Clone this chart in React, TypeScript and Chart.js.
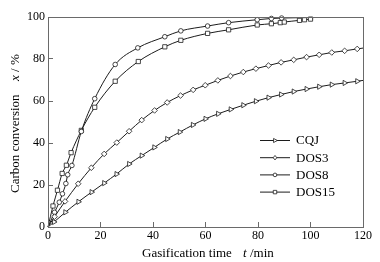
import React, { useEffect, useRef } from "react";
import { Chart, registerables } from "chart.js";

Chart.register(...registerables);

// ---- data ----
const seriesNames = ["CQJ", "DOS3", "DOS8", "DOS15"];

// first and (for CQJ / DOS3 / DOS8 / DOS15) end points are curve-only (no marker)
const cqjTime = [0, 2.3, 6.6, 11.6, 16.6, 21.4, 26.1, 30.9, 35.7, 40.5, 45.4, 50.2, 55.2, 60, 64.8, 69.6, 74.4, 79.2, 84, 88.8, 93.6, 98.5, 103.3, 108.1, 113, 117.8, 120];
const cqjConv = [0, 2.4, 7, 12, 16.6, 20.9, 25.2, 30, 34, 37.9, 41.9, 45.2, 48.6, 51.5, 53.9, 56, 58, 59.9, 61.6, 63.1, 64.5, 65.7, 66.8, 67.8, 68.6, 69.4, 69.8];

const dos3Time = [0, 2.5, 6.5, 11.5, 16.5, 21.4, 26.2, 30.9, 35.7, 40.6, 45.4, 50.5, 55.3, 59.9, 64.7, 69.5, 74.4, 79.2, 84, 88.8, 93.6, 98.5, 103.3, 108.1, 113, 117.8, 120];
const dos3Conv = [0, 4.9, 12.2, 20.6, 28.2, 34.8, 40.2, 45.6, 50.9, 55.5, 59.3, 62.6, 65.3, 67.5, 69.8, 71.9, 73.8, 75.4, 76.9, 78.4, 79.6, 80.9, 82, 83.1, 83.9, 84.8, 85.2];

const dos8Time = [0, 2.5, 4.3, 5.5, 6.8, 7.5, 9.1, 12.7, 17.8, 25.6, 34.2, 44.5, 50.6, 60.8, 68.8, 79.7, 85.1, 89, 101];
const dos8Conv = [0, 7, 11.8, 15.8, 20.7, 24.9, 29.3, 45.5, 61.1, 77.4, 85.3, 90.6, 93.4, 95.7, 97.3, 98.7, 99.3, 99.5, 99.8];

const dos15Time = [0, 1.9, 3.6, 5.4, 7, 8.8, 12.7, 17.8, 25.6, 34.4, 44.5, 50.6, 60.8, 68.8, 79.7, 85.1, 88.5, 90, 95.8, 97.7, 100, 101];
const dos15Conv = [0, 10, 17.5, 25.5, 29.4, 35.4, 46, 57, 69.4, 78.8, 85.8, 88.9, 92.2, 93.9, 96.2, 96.8, 97.3, 97.6, 98.4, 98.7, 99, 99.1];

const xTickValues = [0, 20, 40, 60, 80, 100, 120];
const yTickValues = [0, 20, 40, 60, 80, 100];

const xTitleMain = "Gasification time";
const xTitleVar = "t";
const xTitleUnit = "/min";
const yTitleMain = "Carbon conversion";
const yTitleVar = "x";
const yTitleUnit = " / %";

// ---- styling ----
const FONT = "'Liberation Serif', 'Times New Roman', serif";
const INK = "#1c1c1c";
const FRAME = "#6a6a6a";

type Shape = "triangle" | "rectRot" | "circle" | "rect";
const shapes: Shape[] = ["triangle", "rectRot", "circle", "rect"];
const radii = [3, 2.8, 2.3, 3];

function drawMarker(ctx: CanvasRenderingContext2D, shape: Shape, x: number, y: number, r: number) {
  ctx.beginPath();
  if (shape === "circle") {
    ctx.arc(x, y, r, 0, Math.PI * 2);
  } else if (shape === "rect") {
    const s = r * 0.72;
    ctx.rect(x - s, y - s, 2 * s, 2 * s);
  } else if (shape === "rectRot") {
    ctx.moveTo(x, y - r);
    ctx.lineTo(x + r * 0.8, y);
    ctx.lineTo(x, y + r);
    ctx.lineTo(x - r * 0.8, y);
    ctx.closePath();
  } else {
    ctx.moveTo(x + r, y);
    ctx.lineTo(x - r * 0.6, y - r * 0.85);
    ctx.lineTo(x - r * 0.6, y + r * 0.85);
    ctx.closePath();
  }
  ctx.fillStyle = "#ffffff";
  ctx.fill();
  ctx.lineWidth = 0.8;
  ctx.strokeStyle = INK;
  ctx.stroke();
}

const framePlugin = {
  id: "frameAndTitles",
  afterDraw(chart: any) {
    const { ctx, chartArea } = chart;
    const { left, right, top, bottom } = chartArea;
    ctx.save();
    // frame
    ctx.strokeStyle = FRAME;
    ctx.lineWidth = 1;
    ctx.strokeRect(Math.round(left) + 0.5, Math.round(top) + 0.5, Math.round(right - left), Math.round(bottom - top));

    // legend
    const lx1 = 260, lx2 = 290, ltx = 296, ly0 = 140, ldy = 17.2;
    ctx.font = `13px ${FONT}`;
    ctx.textBaseline = "middle";
    ctx.textAlign = "left";
    seriesNames.forEach((name, i) => {
      const y = ly0 + i * ldy;
      ctx.beginPath();
      ctx.moveTo(lx1, y + 0.5);
      ctx.lineTo(lx2, y + 0.5);
      ctx.strokeStyle = INK;
      ctx.lineWidth = 1;
      ctx.stroke();
      drawMarker(ctx, shapes[i], (lx1 + lx2) / 2, y + 0.5, radii[i] * 0.8);
      ctx.fillStyle = "#000";
      ctx.fillText(name, ltx, y + 1);
    });

    // x title
    ctx.fillStyle = "#000";
    ctx.textBaseline = "alphabetic";
    ctx.font = `13px ${FONT}`;
    ctx.fillText(xTitleMain, 142, 256.5);
    ctx.font = `italic 13px ${FONT}`;
    ctx.fillText(xTitleVar, 243, 256.5);
    ctx.font = `13px ${FONT}`;
    ctx.fillText(xTitleUnit, 250, 256.5);

    // y title (rotated)
    ctx.translate(18.5, 193);
    ctx.rotate(-Math.PI / 2);
    ctx.font = `13px ${FONT}`;
    ctx.fillText(yTitleMain, 0, 0);
    ctx.font = `italic 13px ${FONT}`;
    ctx.fillText(yTitleVar, 112, 0);
    const wx = ctx.measureText(yTitleVar).width;
    ctx.font = `13px ${FONT}`;
    ctx.fillText(yTitleUnit, 112 + wx, 0);
    ctx.restore();
  },
};

function makeDataset(i: number, times: number[], conv: number[], lastIsCurveOnly: boolean) {
  const n = times.length;
  return {
    label: seriesNames[i],
    data: times.map((t, k) => ({ x: t, y: conv[k] })),
    borderColor: INK,
    borderWidth: 1,
    backgroundColor: "#ffffff",
    pointBackgroundColor: "#ffffff",
    pointBorderColor: INK,
    pointBorderWidth: 0.8,
    pointStyle: shapes[i],
    rotation: shapes[i] === "triangle" ? 90 : 0,
    pointRadius: (c: any) => (c.dataIndex === 0 || (lastIsCurveOnly && c.dataIndex === n - 1) ? 0 : radii[i]),
    pointHoverRadius: 0,
    cubicInterpolationMode: "monotone" as const,
    fill: false,
    clip: 2,
  };
}

export default function App() {
  const canvasRef = useRef<HTMLCanvasElement | null>(null);

  useEffect(() => {
    if (!canvasRef.current) return;
    Chart.defaults.font.family = FONT;
    const chart = new Chart(canvasRef.current, {
      type: "line",
      data: {
        datasets: [
          makeDataset(0, cqjTime, cqjConv, true),
          makeDataset(1, dos3Time, dos3Conv, true),
          makeDataset(2, dos8Time, dos8Conv, true),
          makeDataset(3, dos15Time, dos15Conv, true),
        ] as any,
      },
      options: {
        responsive: false,
        animation: false,
        devicePixelRatio: 1,
        layout: { padding: { left: 0, top: 17, right: 17, bottom: 0 } },
        plugins: { legend: { display: false }, tooltip: { enabled: false } },
        scales: {
          x: {
            type: "linear",
            min: 0,
            max: 120,
            afterFit: (s: any) => { s.height = 35; },
            afterBuildTicks: (s: any) => { s.ticks = xTickValues.map((v) => ({ value: v })); },
            ticks: { color: "#000", font: { size: 12, family: FONT }, padding: 7, autoSkip: false, maxRotation: 0 },
            grid: { drawOnChartArea: false, drawTicks: true, tickLength: -5, color: FRAME, lineWidth: 1 },
            border: { display: false },
          },
          y: {
            type: "linear",
            min: 0,
            max: 100,
            afterFit: (s: any) => { s.width = 48; },
            afterBuildTicks: (s: any) => { s.ticks = yTickValues.map((v) => ({ value: v })); },
            ticks: { color: "#000", font: { size: 12, family: FONT }, padding: 8, autoSkip: false },
            grid: { drawOnChartArea: false, drawTicks: true, tickLength: -5, color: FRAME, lineWidth: 1 },
            border: { display: false },
          },
        },
      } as any,
      plugins: [framePlugin],
    });
    return () => chart.destroy();
  }, []);

  return (
    <div style={{ position: "absolute", left: 0, top: 0, width: 380, height: 262, background: "#fff" }}>
      <canvas ref={canvasRef} width={380} height={262} style={{ display: "block", width: 380, height: 262 }} />
    </div>
  );
}
